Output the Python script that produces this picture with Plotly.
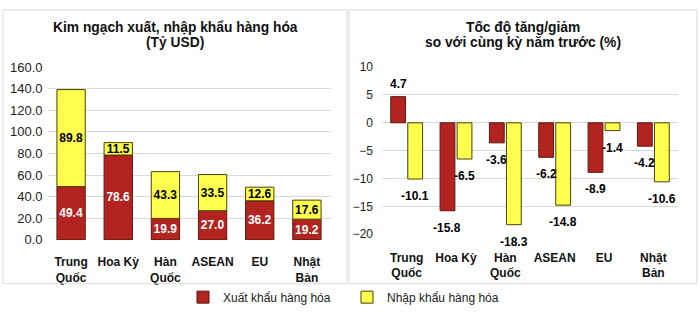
import plotly.graph_objects as go

categories = ["Trung Quốc", "Hoa Kỳ", "Hàn Quốc", "ASEAN", "EU", "Nhật Bản"]
tick_labels = ["Trung<br>Quốc", "Hoa Kỳ", "Hàn<br>Quốc", "ASEAN", "EU", "Nhật<br>Bản"]
export_value = [49.4, 78.6, 19.9, 27.0, 36.2, 19.2]
import_value = [89.8, 11.5, 43.3, 33.5, 12.6, 17.6]
export_growth = [4.7, -15.8, -3.6, -6.2, -8.9, -4.2]
import_growth = [-10.1, -6.5, -18.3, -14.8, -1.4, -10.6]
left_ticks = [0, 20, 40, 60, 80, 100, 120, 140, 160]
right_ticks = [-20, -15, -10, -5, 0, 5, 10]

RED = "#B3231F"
YELLOW = "#FFFF4D"
FONT = "Liberation Sans, Arial, sans-serif"
W, H = 700, 329
BARGAP, BARGROUPGAP = 0.31, 0.13
X2_DOMAIN = [382 / W, 678 / W]

def py(px):
    return (H - px) / H

fig = go.Figure()
fig.add_trace(go.Bar(x=categories, y=export_value, name="Xuất khẩu hàng hóa",
                     marker=dict(color=RED, line=dict(color="#5a1a10", width=1)),
                     text=[f"{v:.1f}" for v in export_value], textposition="inside",
                     insidetextanchor="middle", constraintext="none", textangle=0,
                     textfont=dict(color="white", size=12, family=FONT, weight="bold"),
                     xaxis="x", yaxis="y", legendgroup="a"))
fig.add_trace(go.Bar(x=categories, y=import_value, name="Nhập khẩu hàng hóa",
                     marker=dict(color=YELLOW, line=dict(color="#4a4000", width=1)),
                     text=[f"{v:.1f}" for v in import_value], textposition="inside",
                     insidetextanchor="middle", constraintext="none", textangle=0,
                     textfont=dict(color="black", size=12, family=FONT, weight="bold"),
                     xaxis="x", yaxis="y", legendgroup="b"))
fig.add_trace(go.Bar(x=categories, y=export_growth, name="Xuất khẩu hàng hóa",
                     marker=dict(color=RED, line=dict(color="#5a1a10", width=1)),
                     xaxis="x2", yaxis="y2", offsetgroup="e", showlegend=False, legendgroup="a"))
fig.add_trace(go.Bar(x=categories, y=import_growth, name="Nhập khẩu hàng hóa",
                     marker=dict(color=YELLOW, line=dict(color="#4a4000", width=1)),
                     xaxis="x2", yaxis="y2", offsetgroup="i", showlegend=False, legendgroup="b"))

# value labels of the right chart, placed at each bar's end via the axis scales
band_px = (X2_DOMAIN[1] - X2_DOMAIN[0]) * W / len(categories)
half_offset = (1 - BARGAP) * band_px / 4
value_labels = []
for series, sign in ((export_growth, -1), (import_growth, 1)):
    for cat, v in zip(categories, series):
        value_labels.append(dict(
            x=cat, y=v, xref="x2", yref="y2", text=f"<b>{v:.1f}</b>", showarrow=False,
            xanchor="center", yanchor="bottom" if v >= 0 else "top",
            xshift=sign * half_offset, yshift=4 if v >= 0 else -8,
            font=dict(size=12, color="black", family=FONT)))

axis_common = dict(showline=False, zeroline=False)
fig.update_layout(
    width=W, height=H, margin=dict(l=0, r=0, t=0, b=0),
    paper_bgcolor="white", plot_bgcolor="white",
    font=dict(family=FONT, size=12, color="#222"),
    barmode="relative", bargap=BARGAP, bargroupgap=BARGROUPGAP,
    xaxis=dict(domain=[47.5 / W, 330.5 / W], tickvals=categories, ticktext=tick_labels,
               tickfont=dict(size=12, weight="bold", color="#111"), showgrid=False,
               ticks="outside", ticklen=11, tickcolor="rgba(0,0,0,0)",
               anchor="y", **axis_common),
    yaxis=dict(domain=[py(244), py(63)], range=[0, 160], tickvals=left_ticks,
               tickformat=".1f", showgrid=True, gridcolor="#d9d9d9", gridwidth=1,
               ticks="", ticklabelstandoff=4,
               tickfont=dict(size=13, color="#222"), anchor="x", **axis_common),
    xaxis2=dict(domain=X2_DOMAIN, tickvals=categories, ticktext=tick_labels,
                tickfont=dict(size=12, weight="bold", color="#111"), showgrid=False,
                ticks="outside", ticklen=12, tickcolor="rgba(0,0,0,0)",
                anchor="y2", **axis_common),
    yaxis2=dict(domain=[py(238), py(63)], range=[-20, 10], tickvals=right_ticks,
                showgrid=True, gridcolor="#d9d9d9", gridwidth=1,
                ticks="", ticklabelstandoff=8,
                tickfont=dict(size=12, color="#222"), anchor="x2", **axis_common),
    legend=dict(orientation="h", x=183 / W, y=py(304), xanchor="left", yanchor="middle",
                entrywidth=119, entrywidthmode="pixels",
                font=dict(size=12, color="#222"), bgcolor="rgba(0,0,0,0)"),
    shapes=[
        dict(type="rect", xref="paper", yref="paper", x0=3 / W, x1=347 / W,
             y0=py(290), y1=py(3), line=dict(color="#d9d9d9", width=1)),
        dict(type="rect", xref="paper", yref="paper", x0=349 / W, x1=697 / W,
             y0=py(290), y1=py(3), line=dict(color="#d9d9d9", width=1)),
    ],
    annotations=[
        dict(text="<b>Kim ngạch xuất, nhập khẩu hàng hóa</b>", xref="paper",
             yref="paper", x=175 / W, y=py(22), xanchor="center", yanchor="middle",
             showarrow=False, font=dict(size=13.8, color="#111")),
        dict(text="<b>(Tỷ USD)</b>", xref="paper",
             yref="paper", x=175 / W, y=py(37), xanchor="center", yanchor="middle",
             showarrow=False, font=dict(size=13.8, color="#111")),
        dict(text="<b>Tốc độ tăng/giảm</b>", xref="paper",
             yref="paper", x=523 / W, y=py(22), xanchor="center", yanchor="middle",
             showarrow=False, font=dict(size=13.8, color="#111")),
        dict(text="<b>so với cùng kỳ năm trước (%)</b>", xref="paper",
             yref="paper", x=523 / W, y=py(37), xanchor="center", yanchor="middle",
             showarrow=False, font=dict(size=13.8, color="#111")),
    ] + value_labels,
)
fig.write_html("out.html")
